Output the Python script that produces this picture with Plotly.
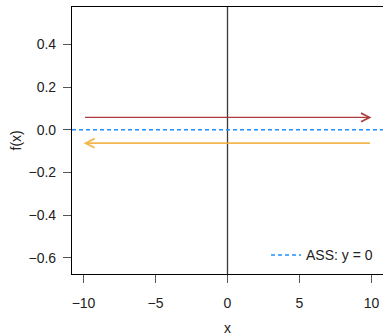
import plotly.graph_objects as go

# ---- data ----
x_ticks = [-10, -5, 0, 5, 10]
y_ticks = [-0.6, -0.4, -0.2, 0.0, 0.2, 0.4]
x_range = [-10.8, 10.8]
y_range = [-0.675, 0.575]
ass_y = [0, 0]
ass_label = "ASS: y = 0"
arrow_y = [0.058, -0.0625]
arrow_from = [-10, 10]
arrow_to = [10, -10]
arrow_colors = ["rgba(170,50,50,0.95)", "rgba(243,170,50,0.85)"]
arrow_widths = [1.3, 1.8]

FONT = "Liberation Sans, Arial, Helvetica, sans-serif"

fig = go.Figure()

fig.add_trace(go.Scatter(
    x=x_range, y=ass_y, mode="lines", name=ass_label,
    line=dict(color="#1E90FF", width=1.4, dash="4px,3px"),
    showlegend=True, hoverinfo="skip"))

fig.add_vline(x=0, line=dict(color="#3a3a3a", width=1.3), layer="below")

for yv, x0, x1, col, w in zip(arrow_y, arrow_from, arrow_to, arrow_colors, arrow_widths):
    fig.add_annotation(
        x=x1, y=yv, ax=x0, ay=yv, xref="x", yref="y", axref="x", ayref="y",
        showarrow=True, arrowhead=5, arrowsize=1.3 if w < 1.5 else 1.0, arrowwidth=w,
        arrowcolor=col, text="", standoff=0, startstandoff=0)

fig.update_xaxes(
    range=x_range, tickvals=x_ticks, ticktext=[str(t).replace("-", "\u2212") for t in x_ticks],
    showgrid=False, zeroline=False, showline=True, linecolor="black", linewidth=1.2,
    mirror=True, ticks="outside", ticklen=8, tickcolor="#555", tickwidth=1,
    tickfont=dict(family=FONT, size=14, color="#222"), ticklabelstandoff=8)
fig.update_yaxes(
    range=y_range, tickvals=y_ticks,
    ticktext=[("%.1f" % t).replace("-", "\u2212") for t in y_ticks],
    showgrid=False, zeroline=False, showline=True, linecolor="black", linewidth=1.2,
    ticks="outside", ticklen=8, tickcolor="#555", tickwidth=1,
    tickfont=dict(family=FONT, size=14, color="#222"), ticklabelstandoff=4)

fig.add_annotation(text="x", xref="paper", yref="paper", x=0.5, y=0, yshift=-54,
                   xanchor="center", yanchor="middle",
                   showarrow=False, font=dict(family=FONT, size=14, color="#222"))
fig.add_annotation(text="f(x)", xref="paper", yref="paper", x=0, y=0.5, xshift=-57,
                   xanchor="center", yanchor="middle",
                   textangle=-90, showarrow=False, font=dict(family=FONT, size=14, color="#222"))

fig.update_layout(
    width=383, height=335,
    margin=dict(l=72, r=0, t=7, b=61),
    paper_bgcolor="white", plot_bgcolor="white",
    font=dict(family=FONT, size=14, color="#222"),
    legend=dict(x=0.984, y=0.01, xanchor="right", yanchor="bottom",
                bgcolor="rgba(0,0,0,0)", font=dict(family=FONT, size=14, color="#222")),
)

fig.write_html("out.html", config={"displayModeBar": False},
               post_script="document.body.style.margin='0';document.body.style.padding='0';")
